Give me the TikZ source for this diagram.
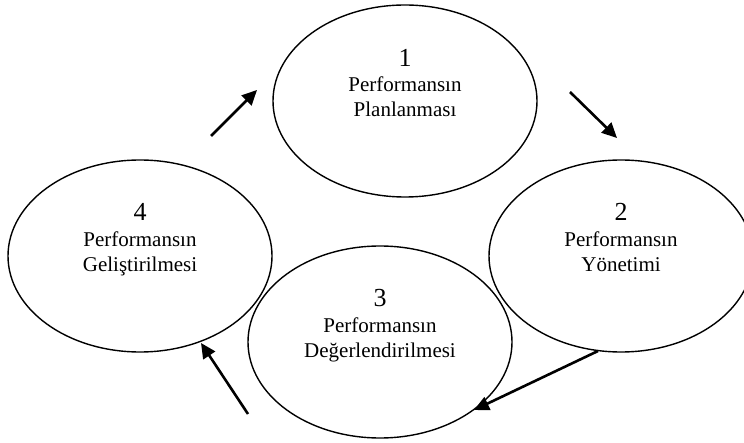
\documentclass[tikz,border=0pt]{standalone}
\usepackage{fontspec}
\setmainfont{Liberation Serif}
\usetikzlibrary{shapes.geometric,arrows.meta}
\tikzset{
  stage/.style={draw=black, line width=1.4pt, ellipse, minimum width=264pt, minimum height=192pt, inner sep=0pt},
  numtxt/.style={anchor=base, inner sep=0pt, font=\fontsize{26}{30}\selectfont},
  lbltxt/.style={anchor=base, inner sep=0pt, font=\fontsize{21}{25}\selectfont},
  flow/.style={line width=2.6pt, -{Triangle[length=15pt,width=14pt]}}
}
\begin{document}
\begin{tikzpicture}[x=1pt,y=-1pt]
\useasboundingbox (0,0) rectangle (744,443);
\clip (0,0) rectangle (744,443);
% ellipses
\node[stage] (e1) at (405,101) {};
\node[stage] (e2) at (621,256) {};
\node[stage] (e3) at (380,342) {};
\node[stage] (e4) at (140,256) {};
% texts
\node[numtxt] (n1) at ([yshift=34pt]e1.center) {1};
\node[lbltxt] (a1) at ([yshift=9pt]e1.center) {Performansın};
\node[lbltxt] (b1) at ([yshift=-16pt]e1.center) {Planlanması};
\node[numtxt] (n2) at ([yshift=35pt]e2.center) {2};
\node[lbltxt] (a2) at ([yshift=9pt]e2.center) {Performansın};
\node[lbltxt] (b2) at ([yshift=-16pt]e2.center) {Yönetimi};
\node[numtxt] (n3) at ([yshift=35pt]e3.center) {3};
\node[lbltxt] (a3) at ([yshift=9pt]e3.center) {Performansın};
\node[lbltxt] (b3) at ([yshift=-16pt]e3.center) {Değerlendirilmesi};
\node[numtxt] (n4) at ([yshift=35pt]e4.center) {4};
\node[lbltxt] (a4) at ([yshift=9pt]e4.center) {Performansın};
\node[lbltxt] (b4) at ([yshift=-16pt]e4.center) {Geliştirilmesi};
% arrow end points
\coordinate (s41) at (211,136);
\coordinate (t41) at (257,90);
\coordinate (s12) at (570,92);
\coordinate (t12) at (617,138);
\coordinate (s23) at (598,351);
\coordinate (t23) at (474,410);
\coordinate (s34) at (248,414);
\coordinate (t34) at (201,343);
\draw[flow] (s41) -- (t41);
\draw[flow] (s12) -- (t12);
\draw[flow] (s23) -- (t23);
\draw[flow] (s34) -- (t34);
\end{tikzpicture}
\end{document}
